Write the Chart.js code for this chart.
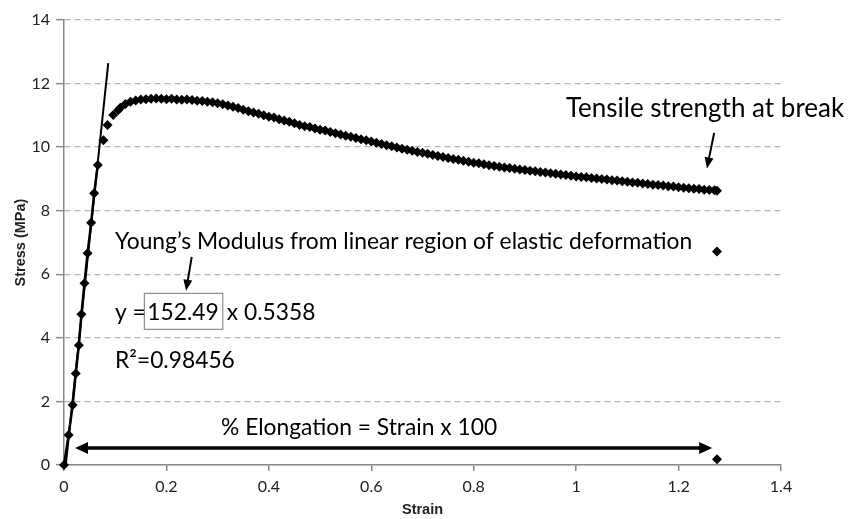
<!DOCTYPE html>
<html>
<head>
<meta charset="utf-8">
<script src="https://cdn.jsdelivr.net/npm/chart.js@4.4.0/dist/chart.umd.min.js"></script>
<style>
  html, body { margin: 0; padding: 0; background: #fff; }
  canvas { display: block; }
</style>
</head>
<body>
<canvas id="chart" width="848" height="519"></canvas>
<script>
// linear (elastic) part of the test, points joined by a line
const elasticStrain = [0, 0.009, 0.017, 0.023, 0.029, 0.034, 0.040, 0.046, 0.053, 0.059, 0.066];
const elasticStress = [0, 0.94, 1.89, 2.88, 3.77, 4.74, 5.72, 6.66, 7.62, 8.55, 9.44];

// yield + plastic part, markers only
const plasticStrain = [0.077, 0.085, 0.096, 0.106,
  0.11, 0.12, 0.13, 0.14, 0.15, 0.16, 0.17, 0.18, 0.19, 0.20,
  0.21, 0.22, 0.23, 0.24, 0.25, 0.26, 0.27, 0.28, 0.29, 0.30,
  0.31, 0.32, 0.33, 0.34, 0.35, 0.36, 0.37, 0.38, 0.39, 0.40,
  0.41, 0.42, 0.43, 0.44, 0.45, 0.46, 0.47, 0.48, 0.49, 0.50,
  0.51, 0.52, 0.53, 0.54, 0.55, 0.56, 0.57, 0.58, 0.59, 0.60,
  0.61, 0.62, 0.63, 0.64, 0.65, 0.66, 0.67, 0.68, 0.69, 0.70,
  0.71, 0.72, 0.73, 0.74, 0.75, 0.76, 0.77, 0.78, 0.79, 0.80,
  0.81, 0.82, 0.83, 0.84, 0.85, 0.86, 0.87, 0.88, 0.89, 0.90,
  0.91, 0.92, 0.93, 0.94, 0.95, 0.96, 0.97, 0.98, 0.99, 1.00,
  1.01, 1.02, 1.03, 1.04, 1.05, 1.06, 1.07, 1.08, 1.09, 1.10,
  1.11, 1.12, 1.13, 1.14, 1.15, 1.16, 1.17, 1.18, 1.19, 1.20,
  1.21, 1.22, 1.23, 1.24, 1.25, 1.26, 1.27, 1.275];
const plasticStress = [10.22, 10.70, 11.01, 11.17,
  11.24, 11.36, 11.43, 11.47, 11.50, 11.51, 11.52, 11.53, 11.52, 11.51,
  11.52, 11.50, 11.49, 11.50, 11.48, 11.46, 11.45, 11.43, 11.41, 11.38,
  11.35, 11.31, 11.27, 11.23, 11.18, 11.13, 11.09, 11.05, 11.00, 10.96,
  10.93, 10.88, 10.84, 10.80, 10.75, 10.70, 10.66, 10.63, 10.59, 10.55,
  10.52, 10.48, 10.44, 10.40, 10.36, 10.33, 10.29, 10.25, 10.22, 10.18,
  10.14, 10.10, 10.06, 10.03, 9.99, 9.95, 9.92, 9.89, 9.85, 9.82,
  9.79, 9.75, 9.72, 9.69, 9.66, 9.63, 9.60, 9.57, 9.54, 9.51,
  9.49, 9.46, 9.43, 9.41, 9.38, 9.36, 9.34, 9.32, 9.30, 9.28,
  9.26, 9.24, 9.22, 9.20, 9.18, 9.16, 9.14, 9.12, 9.10, 9.08,
  9.06, 9.05, 9.03, 9.01, 9.00, 8.98, 8.96, 8.95, 8.93, 8.91,
  8.89, 8.88, 8.86, 8.84, 8.82, 8.81, 8.79, 8.77, 8.76, 8.74,
  8.72, 8.71, 8.69, 8.68, 8.66, 8.65, 8.64, 8.63];

// readings after the break
const breakStrain = [1.275, 1.275];
const breakStress = [6.72, 0.18];

// Young's modulus trendline end points
const fitStrain = [0.0035, 0.0864];
const fitStress = [0, 12.64];

const xTickLabels = ['0', '0.2', '0.4', '0.6', '0.8', '1', '1.2', '1.4'];
const yTickLabels = ['0', '2', '4', '6', '8', '10', '12', '14'];

function toPoints(xs, ys) {
  return xs.map((v, i) => ({ x: v, y: ys[i] }));
}

function arrowHead(ctx, x1, y1, x2, y2, len, half) {
  const a = Math.atan2(y2 - y1, x2 - x1);
  ctx.beginPath();
  ctx.moveTo(x2, y2);
  ctx.lineTo(x2 - len * Math.cos(a) + half * Math.sin(a), y2 - len * Math.sin(a) - half * Math.cos(a));
  ctx.lineTo(x2 - len * Math.cos(a) - half * Math.sin(a), y2 - len * Math.sin(a) + half * Math.cos(a));
  ctx.closePath();
  ctx.fill();
}

function arrow(ctx, x1, y1, x2, y2, w, len, half, both) {
  const a = Math.atan2(y2 - y1, x2 - x1);
  ctx.lineWidth = w;
  ctx.beginPath();
  ctx.moveTo(both ? x1 + (len - 2) * Math.cos(a) : x1, both ? y1 + (len - 2) * Math.sin(a) : y1);
  ctx.lineTo(x2 - (len - 2) * Math.cos(a), y2 - (len - 2) * Math.sin(a));
  ctx.stroke();
  arrowHead(ctx, x1, y1, x2, y2, len, half);
  if (both) arrowHead(ctx, x2, y2, x1, y1, len, half);
}

// text and arrows drawn over the plot
const notes = {
  id: 'notes',
  afterDatasetsDraw(chart) {
    const { ctx, scales: { x, y } } = chart;
    const X = v => x.getPixelForValue(v);
    const Y = v => y.getPixelForValue(v);
    ctx.save();
    ctx.fillStyle = '#000';
    ctx.strokeStyle = '#000';
    ctx.textBaseline = 'alphabetic';
    ctx.textAlign = 'left';

    ctx.font = '26px Lato';
    ctx.fillText('Tensile strength at break', X(0.98), Y(10.96));
    arrow(ctx, X(1.2695), Y(10.45), X(1.2553), Y(9.33), 2, 11, 4.5, false);

    ctx.font = '22.8px Lato';
    ctx.fillText('Young\u2019s Modulus from linear region of elastic deformation', X(0.0996), Y(6.785));
    arrow(ctx, X(0.2494), Y(6.55), X(0.2383), Y(5.483), 2, 11, 4.5, false);

    // equation line, slope boxed
    const base = Y(4.561);
    ctx.fillText('y =', X(0.0996), base);
    const boxLeft = X(0.1568);
    const numLeft = boxLeft + 3;
    const numW = ctx.measureText('152.49').width;
    ctx.fillText('152.49', numLeft, base);
    const boxRight = numLeft + numW + 4;
    ctx.lineWidth = 1;
    ctx.strokeStyle = '#777';
    ctx.strokeRect(boxLeft, Y(5.401), boxRight - boxLeft, Y(4.269) - Y(5.401));
    ctx.strokeStyle = '#000';
    ctx.fillText('x 0.5358', boxRight + 4, base);

    ctx.fillText('R\u00b2=0.98456', X(0.0996), Y(3.061));

    ctx.fillText('% Elongation = Strain x 100', X(0.3066), Y(0.944));
    arrow(ctx, X(0.0215), Y(0.535), X(1.2656), Y(0.535), 3.5, 13, 6, true);
    ctx.restore();
  }
};

const marker = {
  pointStyle: 'rectRot',
  pointRadius: 5,
  pointHoverRadius: 5,
  pointBackgroundColor: '#000',
  pointBorderWidth: 0,
  borderColor: '#000',
  clip: false
};

new Chart(document.getElementById('chart'), {
  type: 'scatter',
  data: {
    datasets: [
      Object.assign({ data: toPoints(fitStrain, fitStress), showLine: true, borderWidth: 2, pointRadius: 0 }, { borderColor: '#000', clip: false }),
      Object.assign({ data: toPoints(elasticStrain, elasticStress), showLine: true, borderWidth: 2.5 }, marker),
      Object.assign({ data: toPoints(plasticStrain, plasticStress), showLine: false }, marker),
      Object.assign({ data: toPoints(breakStrain, breakStress), showLine: false }, marker)
    ]
  },
  options: {
    responsive: false,
    animation: false,
    layout: { padding: { left: 0, right: 67, top: 20, bottom: 0 } },
    plugins: { legend: { display: false }, tooltip: { enabled: false } },
    scales: {
      x: {
        type: 'linear',
        min: 0,
        max: 1.4,
        afterFit: s => { s.height = 54; },
        ticks: {
          stepSize: 0.2,
          padding: 6,
          color: '#222',
          font: { family: 'Lato', size: 16 },
          callback: (v, i) => xTickLabels[i]
        },
        grid: { drawOnChartArea: false, drawTicks: true, tickLength: 6, color: '#888', lineWidth: 1.5 },
        border: { color: '#888', width: 1.5 },
        title: {
          display: true,
          text: 'Strain',
          color: '#222',
          font: { family: 'Liberation Sans', size: 14.5, weight: 'bold' },
          padding: { top: 0, bottom: 0 }
        }
      },
      y: {
        type: 'linear',
        min: 0,
        max: 14,
        afterFit: s => { s.width = 64; },
        ticks: {
          stepSize: 2,
          padding: 6,
          color: '#222',
          font: { family: 'Lato', size: 16 },
          callback: (v, i) => yTickLabels[i]
        },
        grid: { color: '#b4b4b4', lineWidth: 1.3, tickLength: 8, tickColor: '#888', tickWidth: 1.5 },
        border: { color: '#888', width: 1.5, dash: [6, 4] },
        title: {
          display: true,
          text: 'Stress (MPa)',
          color: '#222',
          font: { family: 'Liberation Sans', size: 14.5, weight: 'bold' },
          padding: { top: 12, bottom: 0 }
        }
      }
    }
  },
  plugins: [notes]
});
</script>
</body>
</html>
